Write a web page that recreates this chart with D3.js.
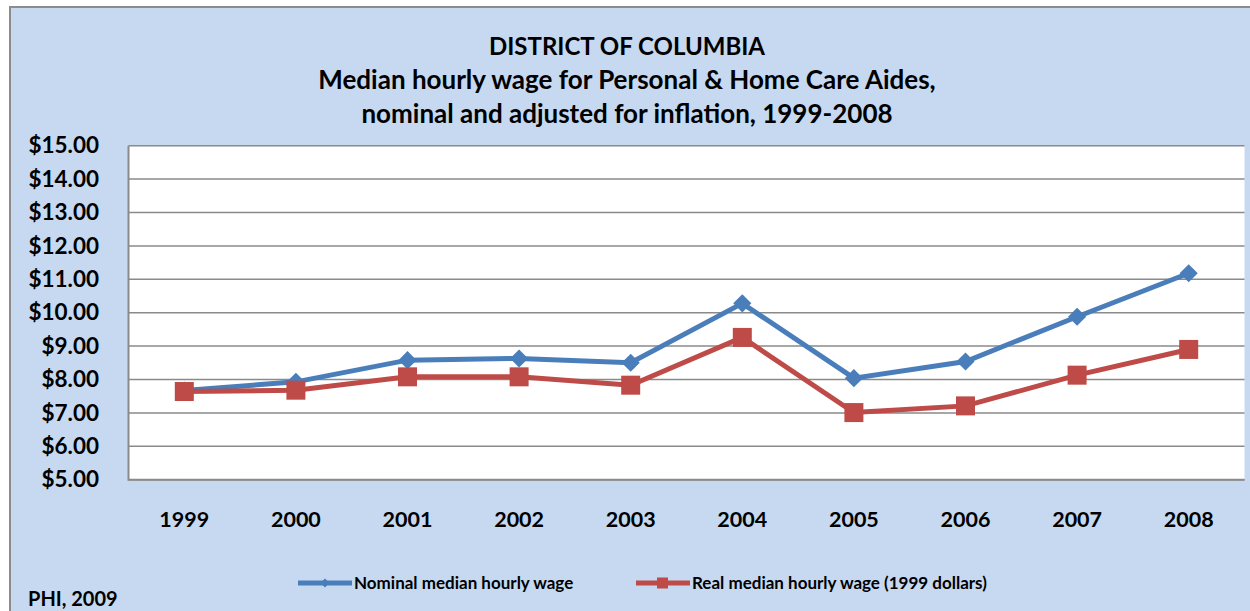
<!DOCTYPE html>
<html>
<head>
<meta charset="utf-8">
<script src="https://cdn.jsdelivr.net/npm/d3@7"></script>
<style>
  body { margin: 0; background: #fff; }
  svg { display: block; font-family: Lato, "Open Sans", sans-serif; font-weight: bold; }
</style>
</head>
<body>
<script>
// data
let years = ["1999", "2000", "2001", "2002", "2003", "2004", "2005", "2006", "2007", "2008"];
let nominal = [7.67, 7.93, 8.58, 8.63, 8.50, 10.28, 8.04, 8.54, 9.88, 11.18];
let real = [7.64, 7.68, 8.08, 8.08, 7.83, 9.26, 7.01, 7.21, 8.13, 8.90];
let yTicks = [5, 6, 7, 8, 9, 10, 11, 12, 13, 14, 15];
let titleLines = ["DISTRICT OF COLUMBIA",
    "Median hourly wage for Personal & Home Care Aides,",
    "nominal and adjusted for inflation, 1999-2008"];
let seriesNames = ["Nominal median hourly wage", "Real median hourly wage (1999 dollars)"];

let W = 1250, H = 611;
let blue = "#4a7ebb", red = "#be4b48";

let svg = d3.select("body").append("svg")
    .attr("width", W)
    .attr("height", H);

// chart background with border
svg.append("rect")
    .attr("x", 10).attr("y", 7)
    .attr("width", W + 10).attr("height", H + 10)
    .attr("fill", "#c6d9f1")
    .attr("stroke", "#8c8c8c")
    .attr("stroke-width", 2);

let plot = {left: 128.5, top: 145.7, right: 1244.5, bottom: 479.7};

let x = d3.scaleBand()
    .domain(years)
    .range([plot.left, plot.right]);

let y = d3.scaleLinear()
    .domain([5, 15])
    .range([plot.bottom, plot.top]);

svg.append("rect")
    .attr("x", plot.left).attr("y", plot.top)
    .attr("width", plot.right - plot.left)
    .attr("height", plot.bottom - plot.top)
    .attr("fill", "#fff");

// gridlines
svg.append("g")
    .selectAll("line")
    .data(yTicks)
    .join("line")
    .attr("x1", plot.left).attr("x2", plot.right)
    .attr("y1", d => y(d)).attr("y2", d => y(d))
    .attr("stroke", "#8a8a8a")
    .attr("stroke-width", 1.5);

// plot frame (left + bottom)
svg.append("path")
    .attr("d", `M${plot.left},${plot.top}V${plot.bottom}H${plot.right}`)
    .attr("fill", "none")
    .attr("stroke", "#8a8a8a")
    .attr("stroke-width", 2);

// y axis
let yAxis = svg.append("g")
    .attr("transform", `translate(${plot.left},0)`)
    .call(d3.axisLeft(y).tickValues(yTicks).tickFormat(d3.format("$.2f")).tickSize(0).tickPadding(29.5));
yAxis.select(".domain").remove();
yAxis.selectAll("text")
    .attr("font-size", 22.5)
    .attr("font-family", "Lato, sans-serif")
    .attr("font-weight", "bold")
    .attr("fill", "#000");

// x axis
let xAxis = svg.append("g")
    .attr("transform", `translate(0,${plot.bottom})`)
    .call(d3.axisBottom(x).tickSize(0).tickPadding(32));
xAxis.select(".domain").remove();
xAxis.selectAll("text")
    .attr("font-size", 21.5)
    .attr("font-family", "Lato, sans-serif")
    .attr("font-weight", "bold")
    .attr("fill", "#000");

let cx = d => x(d) + x.bandwidth() / 2;
let line = d3.line()
    .x((d, i) => cx(years[i]))
    .y(d => y(d));

// nominal series
svg.append("path")
    .datum(nominal)
    .attr("d", line)
    .attr("fill", "none")
    .attr("stroke", blue)
    .attr("stroke-width", 5);
svg.append("g")
    .selectAll("path")
    .data(nominal)
    .join("path")
    .attr("d", d3.symbol(d3.symbolDiamond2, 210))
    .attr("transform", (d, i) => `translate(${cx(years[i])},${y(d)})`)
    .attr("fill", blue);

// real series
svg.append("path")
    .datum(real)
    .attr("d", line)
    .attr("fill", "none")
    .attr("stroke", red)
    .attr("stroke-width", 5);
svg.append("g")
    .selectAll("rect")
    .data(real)
    .join("rect")
    .attr("x", (d, i) => cx(years[i]) - 9.5)
    .attr("y", d => y(d) - 9.5)
    .attr("width", 19).attr("height", 19)
    .attr("fill", red);

// title
svg.append("g")
    .selectAll("text")
    .data(titleLines)
    .join("text")
    .attr("x", 627)
    .attr("y", (d, i) => 55 + i * 34)
    .attr("text-anchor", "middle")
    .attr("font-size", (d, i) => i == 0 ? 24 : 26)
    .attr("fill", "#000")
    .text(d => d);

// legend
let legend = [
    {name: seriesNames[0], color: blue, x: 298, marker: "diamond"},
    {name: seriesNames[1], color: red, x: 636, marker: "square"}
];
let lg = svg.append("g")
    .selectAll("g")
    .data(legend)
    .join("g")
    .attr("transform", d => `translate(${d.x},583)`);
lg.append("line")
    .attr("x1", 0).attr("x2", 54)
    .attr("stroke", d => d.color)
    .attr("stroke-width", 5);
lg.filter(d => d.marker == "diamond").append("path")
    .attr("d", d3.symbol(d3.symbolDiamond2, 50))
    .attr("transform", "translate(27,0)")
    .attr("fill", blue);
lg.filter(d => d.marker == "square").append("rect")
    .attr("x", 21).attr("y", -5.5)
    .attr("width", 11).attr("height", 11)
    .attr("fill", red);
lg.append("text")
    .attr("x", 56)
    .attr("dy", "0.35em")
    .attr("font-size", 17)
    .attr("fill", "#000")
    .text(d => d.name);

// source note
svg.append("text")
    .attr("x", 28)
    .attr("y", 606)
    .attr("font-size", 20)
    .attr("fill", "#000")
    .text("PHI, 2009");
</script>
</body>
</html>
